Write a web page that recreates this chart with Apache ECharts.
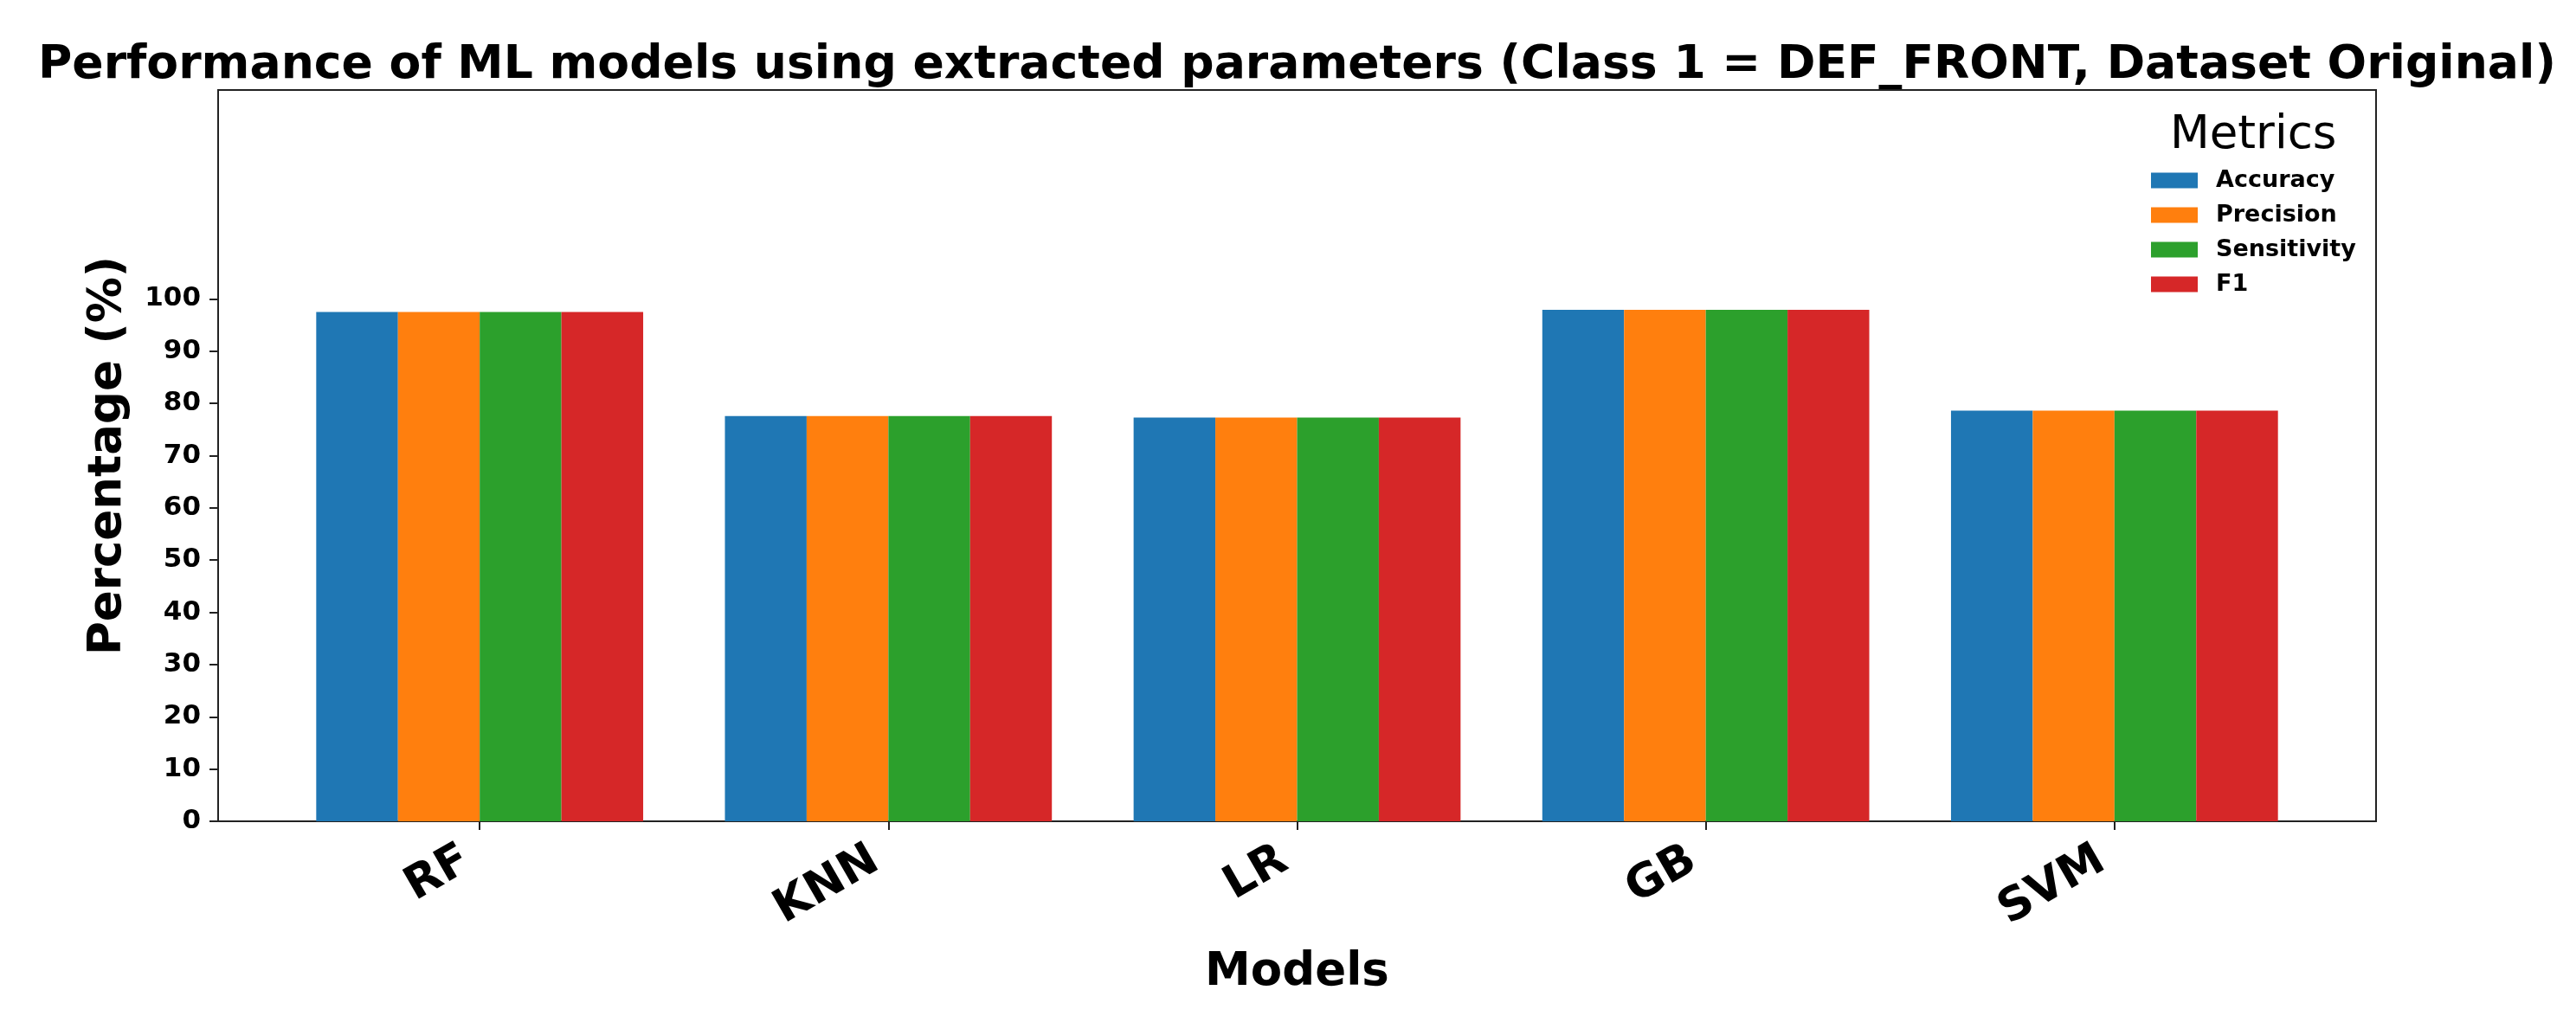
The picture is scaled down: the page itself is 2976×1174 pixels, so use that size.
<!DOCTYPE html>
<html>
<head>
<meta charset="utf-8">
<script src="https://cdn.jsdelivr.net/npm/echarts@6/dist/echarts.min.js"></script>
<style>
html,body{margin:0;padding:0;background:#fff;}
#chart{width:2976px;height:1174px;}
</style>
</head>
<body>
<div id="chart"></div>
<script>
const models = ['RF', 'KNN', 'LR', 'GB', 'SVM'];
const metrics = ['Accuracy', 'Precision', 'Sensitivity', 'F1'];
const accuracy = [97.5, 77.6, 77.3, 97.9, 78.6];
const precision = [97.5, 77.6, 77.3, 97.9, 78.6];
const sensitivity = [97.5, 77.6, 77.3, 97.9, 78.6];
const f1 = [97.5, 77.6, 77.3, 97.9, 78.6];
const yTicks = [0, 10, 20, 30, 40, 50, 60, 70, 80, 90, 100];
const colors = ['#1f77b4', '#ff7f0e', '#2ca02c', '#d62728'];

const seriesValues = [accuracy, precision, sensitivity, f1];
const xPositions = models.map((m, i) => i);
const FONT = 'DejaVu Sans';

const chart = echarts.init(document.getElementById('chart'), null, {renderer: 'canvas'});
chart.setOption({
  animation: false,
  backgroundColor: '#ffffff',
  title: [
    {
      text: 'Performance of ML models using extracted parameters (Class 1 = DEF_FRONT, Dataset Original)',
      left: 39,
      top: 44,
      textStyle: {fontFamily: FONT, fontWeight: 'bold', fontSize: 53.6, color: '#000', lineHeight: 54}
    },
    {
      text: 'Metrics',
      left: 2502,
      top: 126,
      textStyle: {fontFamily: FONT, fontWeight: 'normal', fontSize: 53, color: '#000', lineHeight: 53}
    }
  ],
  legend: {
    orient: 'vertical',
    left: 2480,
    top: 190,
    itemWidth: 54,
    itemHeight: 18,
    itemGap: 13,
    icon: 'rect',
    data: metrics,
    textStyle: {fontFamily: FONT, fontWeight: 'bold', fontSize: 27, color: '#000', lineHeight: 26, padding: [0, 0, 0, 16]}
  },
  grid: {
    left: 252, right: 231, top: 104, bottom: 225,
    show: true, borderColor: '#222', borderWidth: 2, backgroundColor: 'transparent'
  },
  xAxis: {
    type: 'value',
    min: -0.64,
    max: 4.64,
    name: 'Models',
    nameLocation: 'middle',
    nameGap: 149,
    nameTextStyle: {fontFamily: FONT, fontWeight: 'bold', fontSize: 53, color: '#000'},
    axisLine: {show: true, onZero: false, lineStyle: {color: '#222', width: 2}},
    axisTick: {show: true, inside: false, length: 10, lineStyle: {color: '#222', width: 2}, customValues: xPositions},
    axisLabel: {
      customValues: xPositions,
      rotate: 30,
      margin: 33,
      padding: [0, 17, 0, 0],
      fontFamily: FONT, fontWeight: 'bold', fontSize: 53, color: '#000',
      formatter: function (v) { return models[Math.round(v)]; }
    },
    splitLine: {show: false}
  },
  yAxis: {
    type: 'value',
    min: 0,
    max: 140,
    interval: 10,
    name: 'Percentage (%)',
    nameLocation: 'middle',
    nameGap: 100,
    nameTextStyle: {fontFamily: FONT, fontWeight: 'bold', fontSize: 53, color: '#000'},
    axisLine: {show: true, onZero: false, lineStyle: {color: '#222', width: 2}},
    axisTick: {show: true, inside: false, length: 10, lineStyle: {color: '#222', width: 2}, customValues: yTicks},
    axisLabel: {customValues: yTicks, margin: 20, fontFamily: FONT, fontWeight: 'bold', fontSize: 31, color: '#000'},
    splitLine: {show: false}
  },
  series: metrics.map((name, k) => ({
    name: name,
    type: 'bar',
    barGap: '0%',
    barCategoryGap: '20%',
    itemStyle: {color: colors[k]},
    data: xPositions.map((x, i) => [x, seriesValues[k][i]])
  }))
});
</script>
</body>
</html>
